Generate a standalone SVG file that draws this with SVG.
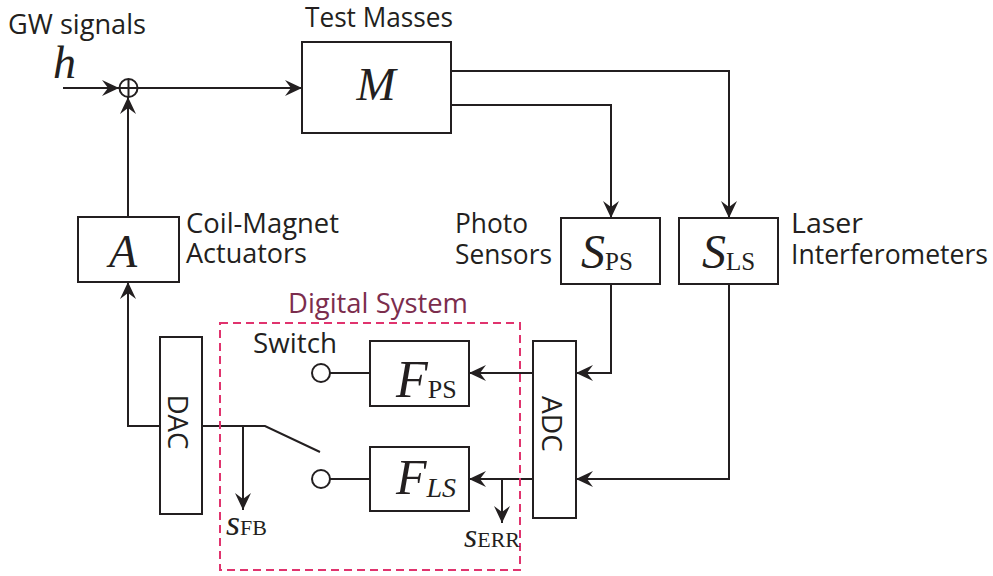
<svg xmlns="http://www.w3.org/2000/svg" width="993" height="576" viewBox="0 0 993 576">
<style>
.box{fill:#fff;stroke:#231f20;stroke-width:2}
.ln{fill:none;stroke:#231f20;stroke-width:2}
.arr{fill:none;stroke:#231f20;stroke-width:2;marker-end:url(#ah)}
.lbl{font-family:"Open Sans","Noto Sans",sans-serif;font-size:26.5px;fill:#231f20}
.math{font-family:"Liberation Serif",serif;font-style:italic;fill:#231f20}
.sub{font-family:"Liberation Serif",serif;fill:#231f20}
.dig{font-family:"Open Sans","Noto Sans",sans-serif;font-size:26.5px;fill:#7b2d4d}
</style>
<defs>
<marker id="ah" viewBox="-17 -8.5 17 17" refX="0" refY="0" markerWidth="17" markerHeight="17" markerUnits="userSpaceOnUse" orient="auto">
<path d="M0,0 L-17,-8 L-11,0 L-17,8 Z" fill="#231f20"/>
</marker>
</defs>

<g id="connectors">
<path class="arr" d="M63,88 H119"/>
<path class="arr" d="M138,88 H302"/>
<path class="arr" d="M128,217 V97"/>
<path class="arr" d="M451,71 H729 V218"/>
<path class="arr" d="M451,105 H611 V218"/>
<path class="arr" d="M611,284 V373 H576"/>
<path class="arr" d="M729,284 V479 H576"/>
<path class="arr" d="M533,373 H469"/>
<path class="arr" d="M533,479 H469"/>
<path class="arr" d="M502,479 V523"/>
<path class="ln" d="M330,373 H370"/>
<path class="ln" d="M330,479 H370"/>
<path class="arr" d="M160,426 H128 V282"/>
<path class="ln" d="M202,426 H265 L320,452"/>
<path class="arr" d="M243,426 V510"/>
</g>

<g id="input">
<text class="lbl" x="8" y="34" textLength="138" lengthAdjust="spacingAndGlyphs">GW signals</text>
<text class="math" x="53" y="78" font-size="46">h</text>
</g>

<g id="sum">
<circle cx="128.5" cy="88" r="9" class="box"/>
<path class="ln" d="M119.5,88 H137.5 M128.5,79 V97"/>
</g>

<g id="test-masses">
<text class="lbl" x="305" y="27" textLength="148" lengthAdjust="spacingAndGlyphs">Test Masses</text>
<rect class="box" x="302" y="42" width="149" height="91"/>
<text class="math" x="376" y="100" font-size="47" text-anchor="middle">M</text>
</g>

<g id="actuator">
<rect class="box" x="78" y="217" width="101" height="65"/>
<text class="math" x="123" y="267" font-size="46" text-anchor="middle">A</text>
<text class="lbl"><tspan x="186" y="233" textLength="153" lengthAdjust="spacingAndGlyphs">Coil-Magnet</tspan><tspan x="186" y="263" textLength="121" lengthAdjust="spacingAndGlyphs">Actuators</tspan></text>
</g>

<g id="photo-sensors">
<text class="lbl"><tspan x="455" y="233" textLength="73" lengthAdjust="spacingAndGlyphs">Photo</tspan><tspan x="455" y="264" textLength="97" lengthAdjust="spacingAndGlyphs">Sensors</tspan></text>
<rect class="box" x="561" y="218" width="99" height="66"/>
<text x="581" y="268"><tspan class="math" font-size="48">S</tspan><tspan class="sub" font-size="25" dy="2">PS</tspan></text>
</g>

<g id="laser-interferometers">
<rect class="box" x="679" y="218" width="99" height="66"/>
<text x="702" y="268"><tspan class="math" font-size="48">S</tspan><tspan class="sub" font-size="25" dy="2">LS</tspan></text>
<text class="lbl"><tspan x="791" y="233" textLength="72" lengthAdjust="spacingAndGlyphs">Laser</tspan><tspan x="791" y="264" textLength="197" lengthAdjust="spacingAndGlyphs">Interferometers</tspan></text>
</g>

<g id="digital-system">
<text class="dig" x="288" y="313" textLength="180" lengthAdjust="spacingAndGlyphs">Digital System</text>
<rect x="220" y="323" width="300" height="247" fill="none" stroke="#e0336e" stroke-width="2" stroke-dasharray="8,5"/>
</g>

<g id="dac">
<rect class="box" x="160" y="337" width="42" height="177"/>
<text class="lbl" font-size="28" transform="translate(168,422) rotate(90)" text-anchor="middle" textLength="55" lengthAdjust="spacingAndGlyphs">DAC</text>
</g>

<g id="adc">
<rect class="box" x="533" y="341" width="43" height="177"/>
<text class="lbl" font-size="28" transform="translate(542,424) rotate(90)" text-anchor="middle" textLength="56" lengthAdjust="spacingAndGlyphs">ADC</text>
</g>

<g id="switch">
<text class="lbl" x="253" y="353" textLength="84" lengthAdjust="spacingAndGlyphs">Switch</text>
<circle class="box" cx="321" cy="373" r="9"/>
<circle class="box" cx="321" cy="479" r="9"/>
</g>

<g id="f-ps">
<rect class="box" x="370" y="341" width="99" height="65"/>
<text x="396" y="397"><tspan class="math" font-size="52">F</tspan><tspan class="sub" font-size="26" dy="1">PS</tspan></text>
</g>

<g id="f-ls">
<rect class="box" x="370" y="447" width="99" height="64"/>
<text x="396" y="494"><tspan class="math" font-size="50">F</tspan><tspan class="math" font-size="28" dy="3">LS</tspan></text>
</g>

<g id="outputs">
<text x="226" y="535"><tspan class="math" font-size="36">s</tspan><tspan class="sub" font-size="22">FB</tspan></text>
<text x="464" y="547"><tspan class="math" font-size="34">s</tspan><tspan class="sub" font-size="22">ERR</tspan></text>
</g>
</svg>
